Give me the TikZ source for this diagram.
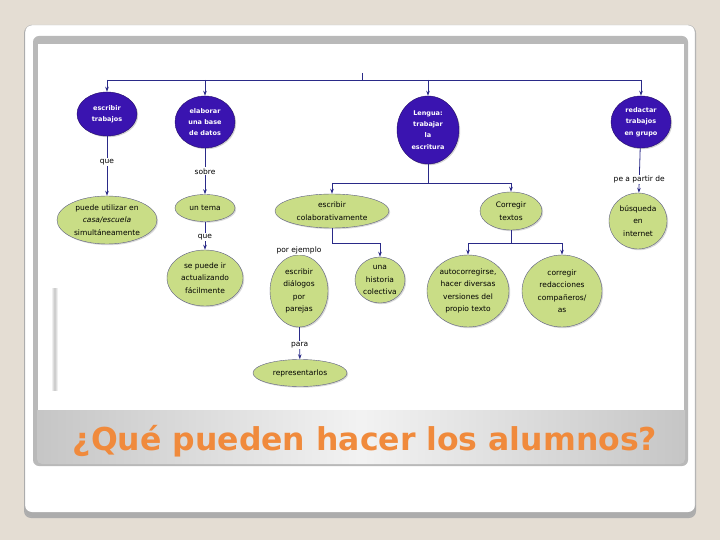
\documentclass[tikz,border=0pt]{standalone}
\usepackage{fontspec}
\setmainfont{DejaVu Sans}
\usetikzlibrary{shapes.geometric,arrows.meta,shadows}
\definecolor{fondo}{HTML}{E4DDD3}
\definecolor{azulnodo}{HTML}{3A14B0}
\definecolor{verdenodo}{HTML}{C9DD86}
\definecolor{linea}{HTML}{2A2A88}
\definecolor{naranja}{HTML}{F08A3C}

\begin{document}
\begin{tikzpicture}[x=1pt, y=-1pt,
  azul/.style={ellipse, draw=azulnodo!60!black, fill=azulnodo, text=white,
    font=\fontsize{6.5}{11.3}\selectfont\bfseries, align=center, inner sep=0pt,
    drop shadow={shadow xshift=1.2pt, shadow yshift=-1.2pt, opacity=0.35}},
  verde/.style={ellipse, draw=linea!40!gray, fill=verdenodo,
    font=\fontsize{7.5}{12.5}\selectfont, align=center, inner sep=0pt,
    drop shadow={shadow xshift=1.2pt, shadow yshift=-1.2pt, opacity=0.3}},
  enlace/.style={draw=linea, line width=0.8pt},
  flecha/.style={enlace, -{Stealth[length=5pt, width=3.5pt]}},
  etiqueta/.style={fill=white, font=\fontsize{7.5}{8}\selectfont, inner sep=1pt}]
  % marco de la diapositiva
  \fill[fondo] (0,0) rectangle (720,540);
  \fill[gray!65, rounded corners=7pt] (24,26) rectangle (696,518);
  \fill[white, rounded corners=7pt] (25,25) rectangle (695,512);
  \draw[gray!60, rounded corners=7pt] (25,25) rectangle (695,517);
  \fill[gray!55, rounded corners=6pt] (33,36) rectangle (688,466);
  \fill[white] (38,44) rectangle (684,410);
  \shade[left color=white, right color=white, middle color=gray!45] (51,288) rectangle (58,390);
  \shade[left color=gray!45, right color=gray!45, middle color=gray!10]
    (37,410) -- (685,410) [rounded corners=5pt] -- (685,464) -- (37,464) [sharp corners] -- cycle;
  \node[text=naranja, font=\bfseries\fontsize{31.5}{32}\selectfont] (titulo) at (365,441)
    {¿Qué pueden hacer los alumnos?};

  % nodos principales
  \node[azul, minimum width=60pt, minimum height=44pt] (trab) at (107,114) {escribir\\trabajos};
  \node[azul, minimum width=60pt, minimum height=52pt] (base) at (205,122) {elaborar\\una base\\de datos};
  \node[azul, minimum width=62pt, minimum height=68pt] (lengua) at (428,130) {Lengua:\\trabajar\\la\\escritura};
  \node[azul, minimum width=60pt, minimum height=52pt] (grupo) at (641,122) {redactar\\trabajos\\en grupo};

  % nodos verdes
  \node[verde, minimum width=100pt, minimum height=48pt] (puede) at (107,220)
    {puede utilizar en\\\textit{casa/escuela}\\simultáneamente};
  \node[verde, minimum width=60pt, minimum height=27pt] (tema) at (205,208) {un tema};
  \node[verde, minimum width=76pt, minimum height=56pt] (actual) at (205,278)
    {se puede ir\\actualizando\\fácilmente};
  \node[verde, minimum width=114pt, minimum height=34pt] (colab) at (332,211)
    {escribir\\colaborativamente};
  \node[verde, minimum width=62pt, minimum height=38pt] (corregir) at (511,211) {Corregir\\textos};
  \node[verde, minimum width=58pt, minimum height=72pt] (dialogos) at (299,291)
    {escribir\\diálogos\\por\\parejas};
  \node[verde, minimum width=50pt, minimum height=46pt] (historia) at (380,280)
    {una\\historia\\colectiva};
  \node[verde, minimum width=82pt, minimum height=72pt] (auto) at (468,291)
    {autocorregirse,\\hacer diversas\\versiones del\\propio texto};
  \node[verde, minimum width=80pt, minimum height=72pt] (compa) at (562,291)
    {corregir\\redacciones\\compañeros/\\as};
  \node[verde, minimum width=94pt, minimum height=27pt] (repre) at (300,373) {representarlos};
  \node[verde, minimum width=58pt, minimum height=56pt] (internet) at (638,221)
    {búsqueda\\en\\internet};

  % barra superior
  \coordinate (b1) at (107,80);
  \coordinate (b2) at (205,80);
  \coordinate (b3) at (428,80);
  \coordinate (b4) at (641,80);
  \coordinate (marca) at (362,73);
  \coordinate (marcab) at (362,80);
  \draw[enlace] (b1) -- (b4);
  \draw[enlace, line width=0.5pt] (marca) -- (marcab);
  \draw[flecha] (b1) -- (trab);
  \draw[flecha] (b2) -- (base);
  \draw[flecha] (b3) -- (lengua);
  \draw[flecha] (b4) -- (grupo);

  % enlaces con palabra
  \draw[flecha] (trab) -- (puede) node[etiqueta, pos=0.43] {que};
  \draw[flecha] (base) -- (tema) node[etiqueta, pos=0.5] {sobre};
  \draw[flecha] (tema) -- (actual) node[etiqueta, pos=0.55] {que};
  \draw[flecha] (dialogos) -- (repre) node[etiqueta, pos=0.55] {para};
  \draw[flecha] (grupo) -- (internet) node[etiqueta, pos=0.7] {pe a partir de};

  % ramas de Lengua
  \coordinate (c0) at (428,183);
  \coordinate (c1) at (332,183);
  \coordinate (c2) at (511,183);
  \draw[enlace] (lengua) -- (c0);
  \draw[enlace] (c1) -- (c2);
  \draw[flecha] (c1) -- (colab);
  \draw[flecha] (c2) -- (corregir);

  \coordinate (d0) at (332,243);
  \coordinate (d1) at (380,243);
  \draw[enlace] (colab) -- (d0) -- (d1);
  \draw[flecha] (d1) -- (historia);
  \node[etiqueta] (ejemplo) at (299,250) {por ejemplo};

  \coordinate (e0) at (511,243);
  \coordinate (e1) at (468,243);
  \coordinate (e2) at (562,243);
  \draw[enlace] (corregir) -- (e0);
  \draw[enlace] (e1) -- (e2);
  \draw[flecha] (e1) -- (auto);
  \draw[flecha] (e2) -- (compa);
\end{tikzpicture}
\end{document}
